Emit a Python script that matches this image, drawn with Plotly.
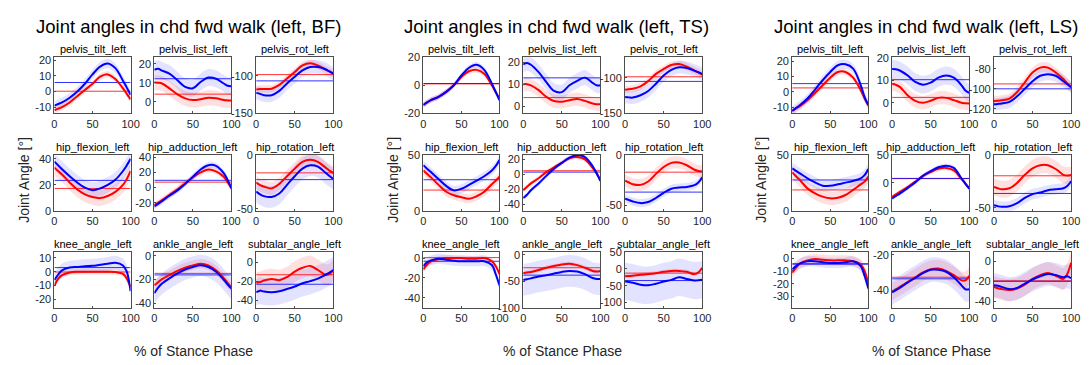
import plotly.graph_objects as go

# ---------------- data ----------------
X = [0, 5, 10, 20, 30, 40, 50, 60, 70, 80, 90, 95, 100]
X_TICKS = [0, 50, 100]

JOINTS = ["pelvis_tilt_left", "pelvis_list_left", "pelvis_rot_left",
          "hip_flexion_left", "hip_adduction_left", "hip_rotation_left",
          "knee_angle_left", "ankle_angle_left", "subtalar_angle_left"]
CONDITIONS = ["BF", "TS", "LS"]
PANEL_TITLES = ["Joint angles in chd fwd walk (left, BF)",
                "Joint angles in chd fwd walk (left, TS)",
                "Joint angles in chd fwd walk (left, LS)"]
Y_LABEL = "Joint Angle [°]"
X_LABEL = "% of Stance Phase"

# ----- BF -----
BF_pelvis_tilt_red = [-12, -11, -10, -7, -3, 1, 5, 9.5, 11, 8, 2, -1.5, -5]
BF_pelvis_tilt_blue = [-9, -8, -7, -4, 0, 5, 11, 16, 18, 15, 7, 2.5, -2]
BF_pelvis_list_red = [10.2, 10.1, 9.7, 7, 4, 1.9, 1, 1.4, 2.2, 1.9, 1, 0.8, 0.7]
BF_pelvis_list_blue = [16.9, 17.4, 16.5, 14.8, 11.4, 7.9, 7.2, 10.5, 12.8, 12.2, 9.7, 8.5, 8.3]
BF_pelvis_rot_red = [-118, -117.5, -117.5, -117, -112, -103.5, -94.7, -86, -83, -86, -91.6, -94, -97]
BF_pelvis_rot_blue = [-122.6, -124, -125.7, -125.7, -120, -110, -101, -92.5, -88, -88, -91, -94, -97]
BF_hip_flexion_red = [33.3, 30.5, 28, 21.9, 16.5, 12.8, 10.7, 9.9, 11.5, 14.7, 20, 24.5, 30.7]
BF_hip_flexion_blue = [37.9, 35, 32, 26.7, 21.9, 17.9, 16, 17.3, 20, 24, 30.7, 35, 40]
BF_hip_adduction_red = [-22.9, -20, -16.7, -9.5, -2.4, 5.7, 13.3, 20, 23.8, 21.4, 14.3, 7, -1]
BF_hip_adduction_blue = [-24.8, -21.5, -18, -10.5, -3.8, 4.8, 14.3, 23.8, 29.5, 28.6, 19, 10, -1]
BF_hip_rotation_red = [-25.5, -28, -29.3, -31, -26.8, -19.7, -12.7, -6.4, -4.5, -6.4, -11.8, -14.5, -16.6]
BF_hip_rotation_blue = [-34, -36.5, -38.2, -38.9, -35.7, -27.7, -19.7, -12.7, -9.6, -10.8, -16.6, -19.5, -22.3]
BF_knee_angle_red = [-10, -5, -2.5, -0.5, 0, 0, 0, 0, 0, -0.2, -1.5, -5, -11]
BF_knee_angle_blue = [-6, -2, 1, 3, 3.5, 4, 4.3, 5, 5.7, 6.5, 4.5, 0, -14]
BF_ankle_angle_red = [-25, -22.4, -19.7, -16.2, -12.7, -10, -8.1, -6.8, -8.1, -12.2, -18.9, -23, -27]
BF_ankle_angle_blue = [-31.6, -27, -23.5, -18.9, -14.9, -11.6, -9.5, -8.1, -9.5, -13.5, -20.3, -24.3, -27.8]
BF_subtalar_angle_red = [-21.7, -21, -19.3, -17.7, -19, -15.7, -10, -6, -4, -8.3, -13.3, -12.7, -8.3]
BF_subtalar_angle_blue = [-31.7, -30, -31, -31.7, -30.7, -28.3, -25.7, -22.3, -20, -17.3, -13.3, -11, -8.3]
BF_HLINE_RED = [0.2, 4.1, -98.2, 17.3, 7.1, -16.6, -0.2, -14.9, -13.3]
BF_HLINE_BLUE = [5.8, 12.2, -106.6, 23.5, 9.5, -22.9, 3, -16.2, -23.3]
BF_SD_RED = [2, 4, 5, 6, 4, 6, 2, 4, 11]
BF_SD_BLUE = [3, 4.5, 9, 6, 4, 10, 5, 9, 14]
BF_YTICKS = [[-10, 0, 10, 20], [0, 10, 20], [-150, -100],
             [0, 20, 40], [-20, 0, 20, 40], [-50, 0],
             [-20, -10, 0, 10], [-40, -20, 0], [-40, -20, 0]]

# ----- TS -----
TS_pelvis_tilt_red = [-14, -12.2, -10.6, -8.2, -4.7, 0, 5.9, 10, 11, 8.2, 0, -4.7, -9.4]
TS_pelvis_tilt_blue = [-14, -12.2, -10.6, -8.2, -4.7, 0, 7, 12.5, 14.6, 11, 1.2, -4.7, -10.6]
TS_pelvis_list_red = [10, 10, 9.5, 7.3, 4.2, 2.3, 2, 2.7, 3.2, 2.4, 1.2, 0.9, 0.9]
TS_pelvis_list_blue = [19, 19.7, 18.9, 15.5, 11, 6.9, 6.4, 9.5, 11.5, 13, 10.6, 9.5, 9.5]
TS_pelvis_rot_red = [-116.7, -116, -115.3, -112, -104.6, -94.4, -87.5, -82, -80.6, -84.3, -89.8, -92.5, -95.4]
TS_pelvis_rot_blue = [-126.9, -127.5, -127.8, -124.5, -118.5, -108.3, -96.8, -88.9, -85.2, -86, -89.8, -92, -94.4]
TS_hip_flexion_red = [36.2, 33, 30, 23.3, 17.2, 14.1, 12.3, 11, 13.2, 17.2, 23.9, 27, 30.7]
TS_hip_flexion_blue = [40.8, 37.7, 34.7, 28.5, 22.4, 18.4, 19.9, 23.3, 27, 31, 36.2, 40, 45.4]
TS_hip_adduction_red = [-21.4, -16.8, -12.3, -5.5, 2.7, 9, 15, 21, 22.7, 19.5, 8.2, 1.4, -7.7]
TS_hip_adduction_blue = [-31.8, -27.3, -21.4, -12.3, -2.3, 7.3, 15, 21.8, 25.5, 22.7, 10.5, 1.4, -9]
TS_hip_rotation_red = [-25.8, -27.5, -29.2, -29.9, -26.5, -18.9, -12, -7.9, -7.6, -10.3, -14.8, -16, -16.5]
TS_hip_rotation_blue = [-43.6, -45, -46.4, -48.1, -47, -43, -37.8, -33.7, -32.6, -32, -30.2, -27.5, -22.3]
TS_knee_angle_red = [-11.3, -6.5, -3.2, -1, 0, 0, 0, -0.6, -0.6, 0, -3.2, -8, -16]
TS_knee_angle_blue = [-8, -4.2, -2.3, -0.6, -1.6, -2.6, -3.2, -3.2, -3.2, -3.2, -7, -16, -27.4]
TS_ankle_angle_red = [-34.8, -33.5, -32.3, -28.7, -24.4, -21.3, -18.3, -17, -19.5, -24.4, -30.5, -31.5, -30.5]
TS_ankle_angle_blue = [-47.6, -46, -44.5, -40.9, -38.4, -35.4, -32.3, -30.5, -31.7, -36.6, -43.9, -45.5, -45.7]
TS_subtalar_angle_red = [-22.6, -21.7, -20.8, -17.9, -16, -13.2, -9.4, -6.6, -6.6, -9.4, -16, -11.3, 2.8]
TS_subtalar_angle_blue = [-37.7, -39.5, -41.5, -47.2, -49, -44.3, -37.7, -33, -25.5, -30.2, -35, -34, -33]
TS_HLINE_RED = [1.0, 3.9, -98.5, 18.7, 4.5, -17.2, 0.5, -24.4, -13.2]
TS_HLINE_BLUE = [1.3, 12.9, -105, 27.9, 2.7, -37.1, -3.2, -38.4, -35]
TS_SD_RED = [2, 3, 5, 4, 3, 6, 3, 4, 6]
TS_SD_BLUE = [2, 3.5, 9, 4, 3, 4, 5, 30, 55]
TS_YTICKS = [[-20, 0, 20], [0, 10, 20], [-150, -100],
             [0, 50], [-40, -20, 0, 20], [-50, 0],
             [-40, -20, 0], [-100, -50, 0], [-100, -50, 0, 50]]

# ----- LS -----
LS_pelvis_tilt_red = [-12.4, -10.8, -9.3, -5.4, -0.7, 4.3, 9.3, 13, 13, 9.3, 1.1, -4.3, -8.7]
LS_pelvis_tilt_blue = [-12.4, -10.5, -8.7, -4.3, 1.5, 7.6, 13, 17.4, 18, 15.2, 4.3, -3.3, -8.7]
LS_pelvis_list_red = [8.5, 8, 7.1, 3.4, 0.9, 0, 0.9, 2.2, 2.2, 1.2, 0, -0.2, -0.3]
LS_pelvis_list_blue = [15.1, 15, 14.4, 12.2, 9.3, 8.1, 9, 11.2, 12.2, 11.2, 7.8, 5.5, 4.4]
LS_pelvis_rot_red = [-112, -111.8, -111.4, -109.7, -103.2, -93.5, -83.8, -78.9, -78.9, -83.8, -90.3, -94.5, -98.4]
LS_pelvis_rot_blue = [-115.3, -115, -114.6, -113, -107.5, -100, -92.5, -87, -85.4, -87, -92.5, -95.5, -98.4]
LS_hip_flexion_red = [34.5, 31, 27.7, 20.2, 15.8, 12.8, 11.3, 11.9, 14.3, 18.8, 23.8, 26.2, 30.7]
LS_hip_flexion_blue = [38, 35.8, 33.6, 29.2, 25.6, 22.6, 22.6, 23.8, 25.3, 26.8, 29.2, 32, 37.5]
LS_hip_adduction_red = [-24.6, -20.3, -16, -7.4, 2.3, 12.6, 19.4, 25.1, 26.9, 22.3, 6.9, -1, -9.1]
LS_hip_adduction_blue = [-27.4, -23, -18.9, -9.1, 1.1, 12.6, 21.1, 28, 30.9, 26.9, 8, -1, -10.3]
LS_hip_rotation_red = [-30.3, -31.5, -32.4, -31.5, -26.4, -18.8, -12.7, -9.7, -9.7, -13.3, -18.8, -19.5, -18.8]
LS_hip_rotation_blue = [-47.6, -48.5, -49, -48.5, -45.5, -40.6, -37, -35.5, -33.3, -32.4, -31.5, -29.4, -24.8]
LS_knee_angle_red = [-11.3, -7.5, -4.3, -1.8, -0.8, -1.3, -1.8, -1.8, -1.8, -2.5, -5, -10, -20]
LS_knee_angle_blue = [-8.8, -6.3, -4.3, -2.5, -2.5, -3.3, -3.8, -3.8, -3.3, -2.5, -6.3, -13.8, -23.8]
LS_ankle_angle_red = [-40.9, -39.5, -38.2, -35.5, -32.7, -30, -28.2, -27.8, -29.1, -31.5, -34.5, -34.5, -31.8]
LS_ankle_angle_blue = [-41.3, -40, -38.7, -35.8, -33.1, -30.4, -28.5, -28.5, -29.6, -32.7, -37.3, -39.5, -39.5]
LS_subtalar_angle_red = [-25.6, -27, -27.8, -28.8, -27.2, -23.4, -17.6, -13.8, -11.8, -14.4, -17.6, -12.8, -1.6]
LS_subtalar_angle_blue = [-24, -24.5, -25.6, -27.8, -26.6, -22.4, -18.2, -15, -12.8, -13.8, -16, -15, -17]
LS_HLINE_RED = [2.6, 2.4, -95.1, 18.8, 8.2, -19.7, -4.3, -32.7, -19.5]
LS_HLINE_BLUE = [5.4, 10.3, -100, 27.7, 7.8, -36.4, -4.8, -33.6, -20]
LS_SD_RED = [2, 3, 5, 6, 4, 8, 4, 5, 11]
LS_SD_BLUE = [3, 4, 6, 5, 4, 5, 4, 7, 12]
LS_YTICKS = [[-10, 0, 10, 20], [0, 10, 20], [-120, -100, -80],
             [0, 50], [-50, 0, 50], [-50, 0],
             [-30, -20, -10, 0], [-40, -20], [-40, -20, 0]]

# ---------------- assemble ----------------
RED = {
    "BF": [BF_pelvis_tilt_red, BF_pelvis_list_red, BF_pelvis_rot_red, BF_hip_flexion_red,
           BF_hip_adduction_red, BF_hip_rotation_red, BF_knee_angle_red, BF_ankle_angle_red,
           BF_subtalar_angle_red],
    "TS": [TS_pelvis_tilt_red, TS_pelvis_list_red, TS_pelvis_rot_red, TS_hip_flexion_red,
           TS_hip_adduction_red, TS_hip_rotation_red, TS_knee_angle_red, TS_ankle_angle_red,
           TS_subtalar_angle_red],
    "LS": [LS_pelvis_tilt_red, LS_pelvis_list_red, LS_pelvis_rot_red, LS_hip_flexion_red,
           LS_hip_adduction_red, LS_hip_rotation_red, LS_knee_angle_red, LS_ankle_angle_red,
           LS_subtalar_angle_red],
}
BLUE = {
    "BF": [BF_pelvis_tilt_blue, BF_pelvis_list_blue, BF_pelvis_rot_blue, BF_hip_flexion_blue,
           BF_hip_adduction_blue, BF_hip_rotation_blue, BF_knee_angle_blue, BF_ankle_angle_blue,
           BF_subtalar_angle_blue],
    "TS": [TS_pelvis_tilt_blue, TS_pelvis_list_blue, TS_pelvis_rot_blue, TS_hip_flexion_blue,
           TS_hip_adduction_blue, TS_hip_rotation_blue, TS_knee_angle_blue, TS_ankle_angle_blue,
           TS_subtalar_angle_blue],
    "LS": [LS_pelvis_tilt_blue, LS_pelvis_list_blue, LS_pelvis_rot_blue, LS_hip_flexion_blue,
           LS_hip_adduction_blue, LS_hip_rotation_blue, LS_knee_angle_blue, LS_ankle_angle_blue,
           LS_subtalar_angle_blue],
}
HL_RED = {"BF": BF_HLINE_RED, "TS": TS_HLINE_RED, "LS": LS_HLINE_RED}
HL_BLUE = {"BF": BF_HLINE_BLUE, "TS": TS_HLINE_BLUE, "LS": LS_HLINE_BLUE}
SD_RED = {"BF": BF_SD_RED, "TS": TS_SD_RED, "LS": LS_SD_RED}
SD_BLUE = {"BF": BF_SD_BLUE, "TS": TS_SD_BLUE, "LS": LS_SD_BLUE}
YTICKS = {"BF": BF_YTICKS, "TS": TS_YTICKS, "LS": LS_YTICKS}

# ---------------- layout (positions / styles) ----------------
W, H = 1089, 365
FONT = "Liberation Sans, Arial, sans-serif"
PANEL_LEFT = [52, 425, 798]
COL_OFF = [0, 101, 204]
COL_W = [77, 78, 78]
ROW_TOP = [53, 154, 254]
ROW_H = 58
Y_LIMITS = {
    "BF": [[-14, 22], [-6, 23.5], [-150, -75], [0, 43], [-31, 43], [-52, 0],
           [-26, 14.5], [-44, 3.5], [-48, 11]],
    "TS": [[-20, 20], [-3.3, 22.3], [-150, -71], [0, 50], [-49, 25.5], [-56, 0],
           [-50, 6.5], [-100, 6], [-115, 50]],
    "LS": [[-14, 22.6], [-4.7, 20.3], [-124.4, -68.6], [0, 50], [-50, 50], [-53, 0],
           [-38.75, 5], [-50, -18.2], [-46.4, 9.6]],
}
TITLE_CX = [188, 560, 933]
XLABEL_CX = [193, 566, 939]

RED_C, BLUE_C = "rgb(255,0,0)", "rgb(0,0,255)"
RED_F, BLUE_F = "rgba(255,0,0,0.12)", "rgba(0,0,255,0.11)"
AX_C = "#4d4d4d"
TICK_C = "#262626"

fig = go.Figure()
layout = dict(width=W, height=H, margin=dict(l=0, r=0, t=0, b=0),
              paper_bgcolor="white", plot_bgcolor="white", showlegend=False,
              font=dict(family=FONT, color=TICK_C))
annotations = []

for p, cond in enumerate(CONDITIONS):
    for j in range(9):
        r, c = divmod(j, 3)
        k = p * 9 + j + 1
        xa = "x" if k == 1 else f"x{k}"
        ya = "y" if k == 1 else f"y{k}"
        left = PANEL_LEFT[p] + COL_OFF[c]
        right = left + COL_W[c]
        top = ROW_TOP[r]
        bottom = top + ROW_H
        red, blue = RED[cond][j], BLUE[cond][j]
        sdr, sdb = SD_RED[cond][j], SD_BLUE[cond][j]
        for m, sd, fc in [(red, sdr, RED_F), (blue, sdb, BLUE_F)]:
            fig.add_trace(go.Scatter(x=X, y=[v - sd for v in m], mode="lines",
                                     line=dict(width=0, shape="spline"),
                                     xaxis=xa, yaxis=ya, hoverinfo="skip"))
            fig.add_trace(go.Scatter(x=X, y=[v + sd for v in m], mode="lines",
                                     line=dict(width=0, shape="spline"),
                                     fill="tonexty", fillcolor=fc,
                                     xaxis=xa, yaxis=ya, hoverinfo="skip"))
        fig.add_trace(go.Scatter(x=[X[0], X[-1]], y=[HL_RED[cond][j]] * 2, mode="lines",
                                 line=dict(color=RED_C, width=1), opacity=0.8,
                                 xaxis=xa, yaxis=ya))
        fig.add_trace(go.Scatter(x=[X[0], X[-1]], y=[HL_BLUE[cond][j]] * 2, mode="lines",
                                 line=dict(color=BLUE_C, width=1), opacity=0.8,
                                 xaxis=xa, yaxis=ya))
        fig.add_trace(go.Scatter(x=X, y=red, mode="lines",
                                 line=dict(color=RED_C, width=2, shape="spline"),
                                 xaxis=xa, yaxis=ya))
        fig.add_trace(go.Scatter(x=X, y=blue, mode="lines",
                                 line=dict(color=BLUE_C, width=2, shape="spline"),
                                 xaxis=xa, yaxis=ya))

        axcommon = dict(showline=True, mirror=True, linecolor=AX_C, linewidth=1,
                        showgrid=False, zeroline=False, ticks="inside", ticklen=2,
                        tickcolor=AX_C, tickfont=dict(size=11, color=TICK_C, family=FONT))
        xname = "xaxis" if k == 1 else f"xaxis{k}"
        yname = "yaxis" if k == 1 else f"yaxis{k}"
        layout[xname] = dict(axcommon, domain=[left / W, right / W], range=[0, 100],
                             tickvals=X_TICKS, ticktext=[str(v) for v in X_TICKS],
                             anchor=ya)
        yt = YTICKS[cond][j]
        layout[yname] = dict(axcommon, domain=[1 - bottom / H, 1 - top / H],
                             range=Y_LIMITS[cond][j], tickvals=yt,
                             ticktext=[str(v) for v in yt], anchor=xa)
        annotations.append(dict(text=JOINTS[j], xref="paper", yref="paper",
                                x=(left + right) / 2 / W, y=1 - top / H,
                                xanchor="center", yanchor="bottom", yshift=0,
                                showarrow=False,
                                font=dict(size=11, color="black", family=FONT)))
    annotations.append(dict(text=PANEL_TITLES[p], xref="paper", yref="paper",
                            x=TITLE_CX[p] / W, y=1 - 21 / H, xanchor="center",
                            yanchor="middle", showarrow=False,
                            font=dict(size=18.5, color="black", family=FONT)))
    annotations.append(dict(text=X_LABEL, xref="paper", yref="paper",
                            x=XLABEL_CX[p] / W, y=1 - 357 / H, xanchor="center",
                            yanchor="middle", showarrow=False,
                            font=dict(size=14, color=TICK_C, family=FONT)))
    annotations.append(dict(text=Y_LABEL, xref="paper", yref="paper",
                            x=(PANEL_LEFT[p] - 31) / W, y=1 - 180 / H, xanchor="center",
                            yanchor="middle", textangle=-90, showarrow=False,
                            font=dict(size=14, color=TICK_C, family=FONT)))

layout["annotations"] = annotations
fig.update_layout(**layout)
fig.write_html("out.html")
